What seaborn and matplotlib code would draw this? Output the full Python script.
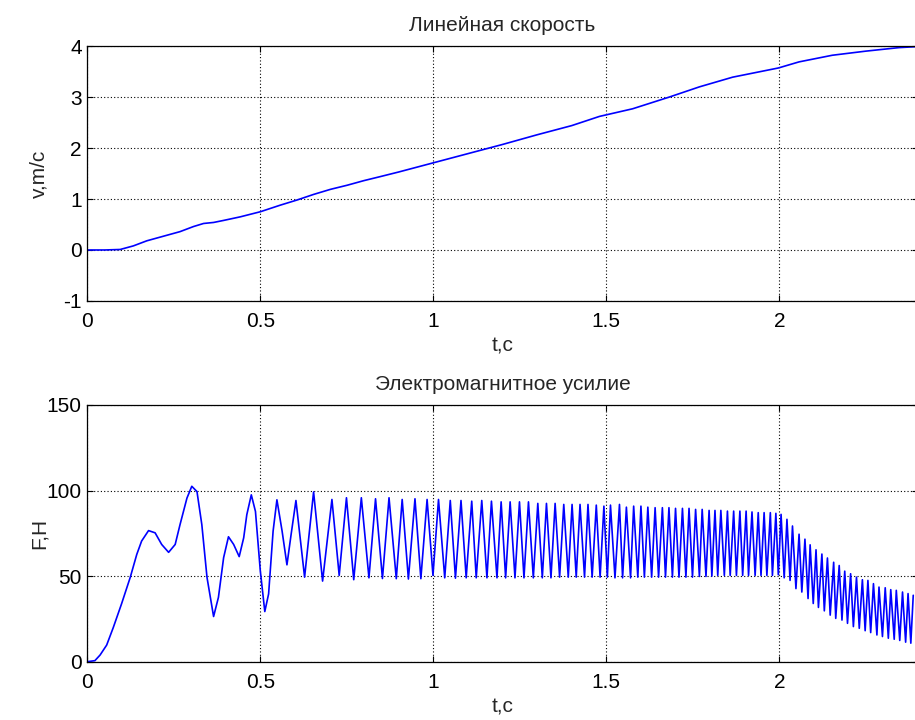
#!/usr/bin/env python3

import numpy as np
import pandas as pd
import matplotlib
matplotlib.use("Agg")
import matplotlib.pyplot as plt
import seaborn as sns

# Linear speed
v_time = [0.0, 0.05, 0.095, 0.133, 0.172, 0.22, 0.268, 0.307, 0.336, 0.365,
          0.394, 0.442, 0.5, 0.558, 0.606, 0.654, 0.703, 0.751, 0.799, 0.847,
          0.9, 1.0, 1.1, 1.2, 1.3, 1.4, 1.48, 1.576, 1.682, 1.769, 1.865,
          1.997, 2.057, 2.153, 2.249, 2.346, 2.4]
v_value = [0.0, 0.0, 0.01, 0.08, 0.18, 0.27, 0.36, 0.46, 0.52, 0.54,
           0.58, 0.65, 0.75, 0.88, 0.98, 1.09, 1.19, 1.27, 1.36, 1.44,
           1.53, 1.71, 1.89, 2.07, 2.26, 2.44, 2.62, 2.77, 3.0, 3.2, 3.39,
           3.57, 3.69, 3.82, 3.9, 3.97, 3.99]

# Electromagnetic force: start-up transient, then peaks/troughs of the ripple
f_time = [0.0, 0.022, 0.037, 0.056, 0.075, 0.099, 0.124, 0.143, 0.157, 0.177,
          0.196, 0.215, 0.235, 0.254, 0.268, 0.288, 0.302, 0.317, 0.331, 0.346,
          0.365, 0.379, 0.394, 0.408, 0.423, 0.439, 0.452, 0.461, 0.474, 0.486,
          0.5, 0.513, 0.524, 0.537, 0.548, 0.563, 0.577, 0.589, 0.603,
          0.628, 0.654, 0.680, 0.707, 0.728, 0.749, 0.770, 0.792, 0.814, 0.833,
          0.853, 0.872, 0.893, 0.910, 0.928, 0.947, 0.964, 0.982, 0.999, 1.015,
          1.033, 1.049, 1.064, 1.080, 1.095, 1.111, 1.124, 1.140, 1.155, 1.168,
          1.184, 1.196,
          1.209, 1.222, 1.236, 1.249, 1.262, 1.275, 1.289, 1.302, 1.315, 1.327,
          1.340, 1.352, 1.365, 1.377, 1.390, 1.401, 1.413, 1.424, 1.437, 1.447,
          1.459, 1.471, 1.482, 1.493, 1.503, 1.512, 1.525, 1.538, 1.547, 1.558,
          1.570, 1.579, 1.591, 1.600, 1.610, 1.620, 1.631, 1.641, 1.651, 1.662,
          1.671, 1.681, 1.691, 1.700, 1.710, 1.720, 1.730, 1.739, 1.749, 1.758,
          1.769, 1.777, 1.788, 1.797, 1.805, 1.814, 1.822, 1.831, 1.841, 1.850,
          1.858, 1.868, 1.876, 1.886, 1.894, 1.904, 1.911, 1.921, 1.930, 1.939,
          1.947, 1.956, 1.964, 1.974, 1.980, 1.990, 1.997, 2.005, 2.014, 2.022,
          2.031, 2.038, 2.048, 2.057, 2.065, 2.074, 2.083, 2.089, 2.098, 2.106,
          2.113, 2.123, 2.130, 2.139, 2.147, 2.157, 2.163, 2.173, 2.181, 2.189,
          2.197, 2.206, 2.214, 2.223, 2.231, 2.240, 2.248, 2.256, 2.264, 2.272,
          2.282, 2.288, 2.298, 2.306, 2.315, 2.322, 2.332, 2.338, 2.348, 2.356,
          2.365, 2.372, 2.380, 2.387]
f_value = [0.0, 0.6, 3.9, 9.7, 19.9, 33.8, 49.2, 62.7, 70.5, 76.6,
           75.3, 68.5, 63.9, 68.5, 80.1, 95.6, 102.5, 99.4, 80.1, 49.2,
           26.4, 37.6, 60.8, 73.0, 68.5, 61.4, 72.4, 85.9, 97.5, 87.8,
           53.1, 29.3, 39.6, 76.3, 94.6, 76.3, 56.6, 74.3, 94.2,
           49.4, 99.2, 47.1, 94.8, 50.4, 95.8, 47.9, 95.8, 49.0, 95.2,
           48.6, 95.8, 48.5, 94.8, 48.3, 95.2, 48.5, 94.8, 50.4, 94.8,
           49.0, 94.2, 48.8, 94.2, 49.0, 93.8, 49.0, 94.2, 49.0, 93.8,
           49.0, 93.4,
           49.0, 93.4, 49.0, 93.4, 49.0, 93.4, 49.0, 92.5, 49.0, 92.5,
           49.0, 92.5, 49.4, 91.9, 49.4, 91.9, 49.4, 91.9, 49.4, 91.9,
           49.4, 91.5, 49.4, 90.9, 49.4, 91.5, 49.0, 91.9, 49.0, 90.3,
           49.0, 90.9, 49.4, 90.9, 49.4, 90.3, 49.4, 90.0, 49.4, 90.0,
           49.4, 90.0, 49.4, 89.6, 49.4, 89.6, 49.4, 89.6, 49.4, 89.0,
           49.8, 89.0, 49.8, 88.4, 50.0, 88.4, 50.4, 88.4, 50.4, 88.0,
           50.4, 88.0, 50.4, 88.0, 50.4, 88.0, 50.4, 87.5, 50.4, 87.1,
           50.4, 87.1, 50.4, 87.1, 50.4, 86.7, 50.8, 86.1, 49.0, 83.2,
           47.5, 79.3, 42.7, 74.5, 40.7, 71.6, 36.9, 68.3, 34.0, 65.4,
           31.7, 62.9, 29.7, 60.6, 27.2, 58.1, 25.3, 56.2, 24.3, 52.9,
           22.4, 51.4, 20.5, 49.4, 19.5, 47.9, 18.1, 47.5, 17.0, 45.6,
           15.6, 43.6, 14.7, 43.2, 13.7, 42.1, 13.1, 41.7, 12.4, 40.7,
           11.4, 39.8, 10.8, 38.8]

x_ticks = [0, 0.5, 1, 1.5, 2]
x_tick_labels = ['0', '0.5', '1', '1.5', '2']
v_ticks = [-1, 0, 1, 2, 3, 4]
f_ticks = [0, 50, 100, 150]

sns.set_style("ticks")
plt.rcParams['font.family'] = ['Liberation Sans', 'DejaVu Sans']
plt.rcParams['axes.unicode_minus'] = False
FS = 15

speed_df = pd.DataFrame({'t': v_time, 'v': v_value})
force_df = pd.DataFrame({'t': f_time, 'F': f_value})

fig = plt.figure(figsize=(9.15, 7.2), dpi=100)
ax1 = fig.add_axes([0.0954, 0.582, 0.9076, 0.354])
ax2 = fig.add_axes([0.0954, 0.081, 0.9076, 0.3565])


def style_axes(ax, yticks, ylim, title, ylabel):
    ax.set_xlim(0, 2.4)
    ax.set_ylim(*ylim)
    ax.set_xticks(x_ticks)
    ax.set_xticklabels(x_tick_labels)
    ax.set_yticks(yticks)
    ax.grid(True, color='black', linestyle=(0, (1, 2)), linewidth=0.8)
    ax.tick_params(direction='in', length=4.5, width=0.8, top=True,
                   right=True, labelsize=FS, colors='black')
    ax.tick_params(axis='x', pad=8)
    ax.tick_params(axis='y', pad=4)
    for spine in ax.spines.values():
        spine.set_visible(True)
        spine.set_color('black')
        spine.set_linewidth(0.9)
    ax.set_title(title, fontsize=FS, pad=11)
    ax.set_xlabel('t,c', fontsize=FS, labelpad=4)
    ax.set_ylabel(ylabel, fontsize=FS)
    ax.yaxis.set_label_coords(-0.047, 0.5)


sns.lineplot(data=speed_df, x='t', y='v', ax=ax1, color='#0000ff',
             linewidth=1.2, estimator=None, sort=False)
style_axes(ax1, v_ticks, (-1, 4), 'Линейная скорость', 'v,m/c')

sns.lineplot(data=force_df, x='t', y='F', ax=ax2, color='#0000ff',
             linewidth=1.2, estimator=None, sort=False)
style_axes(ax2, f_ticks, (0, 150), 'Электромагнитное усилие', 'F,H')

fig.savefig('out.png', dpi=100)
plt.close(fig)
